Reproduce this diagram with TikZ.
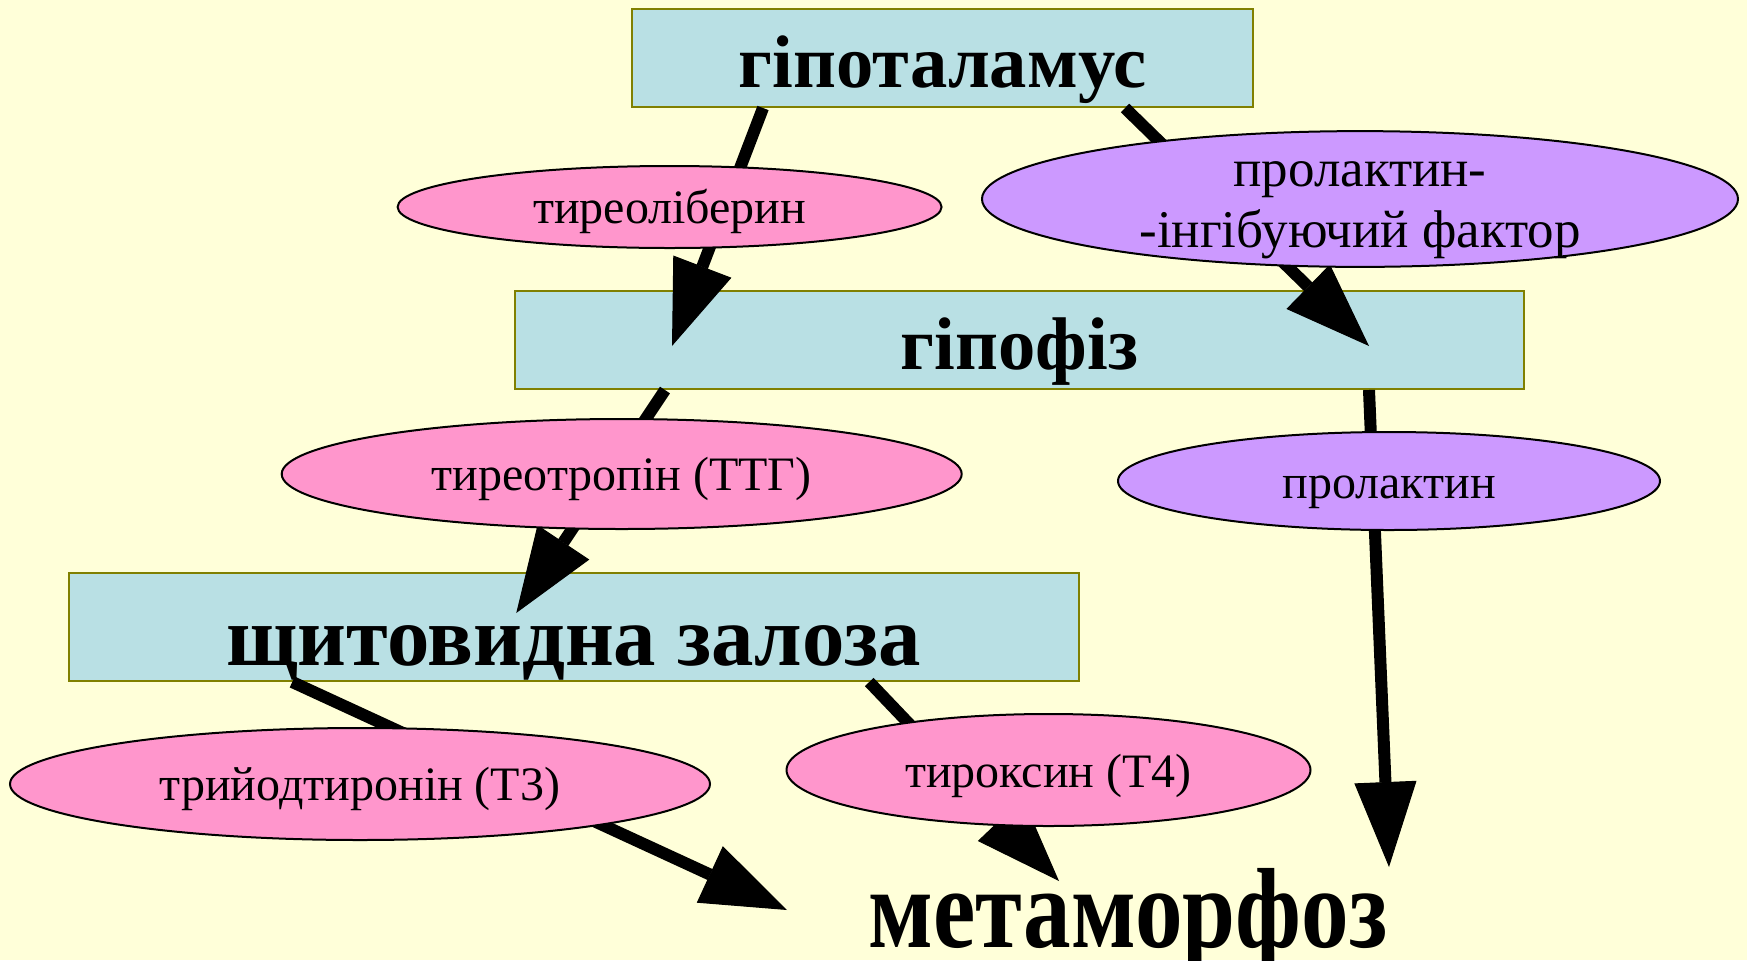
\documentclass[tikz,border=0pt]{standalone}
\usepackage{fontspec}
\setmainfont{Liberation Serif}
\usetikzlibrary{arrows.meta,shapes.geometric,calc}

\pgfdeclarelayer{boxes}
\pgfdeclarelayer{links}
\pgfsetlayers{boxes,links,main}

\definecolor{paper}{RGB}{255,255,217}
\definecolor{organ}{RGB}{185,224,228}
\definecolor{organline}{RGB}{128,128,0}
\definecolor{pinkhormone}{RGB}{255,150,204}
\definecolor{violethormone}{RGB}{204,153,255}

\begin{document}
\begin{tikzpicture}[x=0.5pt,y=-0.5pt,
  organbox/.style={rectangle, draw=organline, line width=1pt, fill=organ,
    inner sep=0pt, text depth=0pt, font=\bfseries\fontsize{37.3}{44}\selectfont},
  hormone/.style={ellipse, draw=black, line width=1pt, inner sep=0pt,
    text depth=0pt, font=\fontsize{24}{30.5}\selectfont},
  pinkh/.style={hormone, fill=pinkhormone},
  violeth/.style={hormone, fill=violethormone},
  link/.style={line width=6pt, draw=black,
    -{Triangle[length=42.5pt,width=31pt,line width=0.5pt]}},
]
\useasboundingbox (0,0) rectangle (1747,960);

% organs (boxes) and background
\begin{pgfonlayer}{boxes}
  \fill[paper] (0,0) rectangle (1747,960);
  \node[organbox, minimum width=310.5pt, minimum height=49pt, text height=29pt]
    (hyp) at (942.5,58) {гіпоталамус};
  \node[organbox, minimum width=504.5pt, minimum height=49pt, text height=29.5pt]
    (pit) at (1019.5,340) {гіпофіз};
  \node[organbox, minimum width=504.75pt, minimum height=54pt, text height=38pt,
    font=\bfseries\fontsize{42.4}{48}\selectfont]
    (thy) at (573.75,627) {щитовидна залоза};
\end{pgfonlayer}

% target
\node[inner sep=0pt, anchor=base, font=\bfseries\fontsize{57}{62}\selectfont]
  (met) at (1128,947) {\scalebox{0.835}[1]{метаморфоз}};

% hormones
\node[pinkh, minimum width=272pt, minimum height=41pt, text height=16pt]
  (trh) at (669.6,207) {тиреоліберин};
\node[violeth, minimum width=378pt, minimum height=63pt, text height=48pt,
    font=\fontsize{26.5}{30.5}\selectfont]
  (pif) at (1360,199)
  {\begin{tabular}[b]{@{}c@{}}пролактин-\\-інгібуючий фактор\end{tabular}};
\node[pinkh, minimum width=340pt, minimum height=55pt, text height=16pt]
  (tsh) at (621.7,474) {тиреотропін (ТТГ)};
\node[violeth, minimum width=271pt, minimum height=49pt, text height=17pt]
  (prl) at (1389,481) {пролактин};
\node[pinkh, minimum width=350pt, minimum height=56pt, text height=16pt]
  (t3) at (360,784) {трийодтиронін (Т3)};
\node[pinkh, minimum width=262pt, minimum height=56pt, text height=17pt]
  (t4) at (1048.5,770) {тироксин (Т4)};

% hormone pathways
\begin{pgfonlayer}{links}
  \draw[link] ($(hyp.south)+(-179.5,0)$) -- ($(pit.center)+(-347.5,6)$);
  \draw[link] ($(hyp.south)+(182.5,0)$) -- ($(pit.center)+(349.5,6)$);
  \draw[link] ($(pit.south)+(-354.5,0)$) -- ($(thy.center)+(-57.5,-14)$);
  \draw[link] ($(pit.south)+(349.5,0)$) -- ($(met.base)+(261,-80)$);
  \draw[link] ($(thy.south)+(-281.5,0)$) -- ($(met.base)+(-341,-37)$);
  \draw[link] ($(thy.south)+(295.5,0)$) -- ($(met.base)+(-69,-66)$);
\end{pgfonlayer}
\end{tikzpicture}
\end{document}
